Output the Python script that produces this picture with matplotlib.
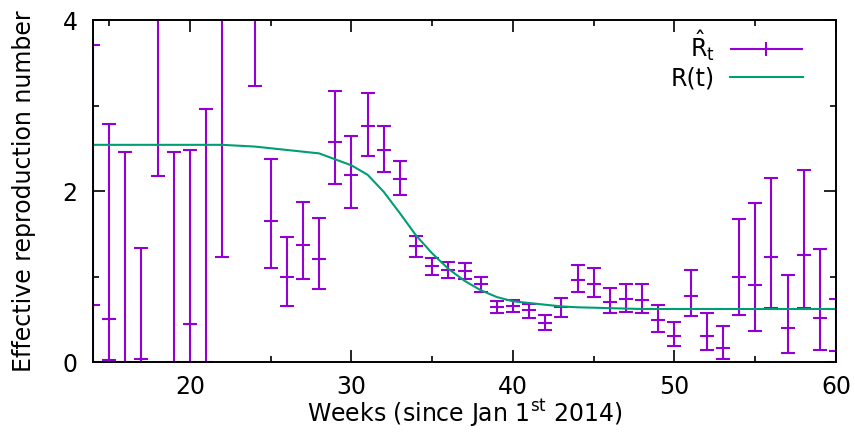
import matplotlib
matplotlib.use("Agg")
import matplotlib.pyplot as plt
from matplotlib.container import ErrorbarContainer
from matplotlib.legend_handler import HandlerErrorbar

# weekly estimates of R_t (centre, lower, upper)
weeks = [14, 15, 16, 17, 18, 19, 20, 21, 22, 24, 25, 26, 27, 28, 29,
         30, 31, 32, 33, 34, 35, 36, 37, 38, 39, 40, 41, 42, 43, 44,
         45, 46, 47, 48, 49, 50, 51, 52, 53, 54, 55, 56, 57, 58, 59, 60]
rt_mid = [0.67, 0.50, 0.00, 0.03, 4.50, 0.00, 0.44, 0.00, 4.30, 4.50, 1.65, 1.00, 1.37, 1.21, 2.57,
          2.19, 2.76, 2.48, 2.14, 1.36, 1.12, 1.08, 1.06, 0.91, 0.64, 0.65, 0.61, 0.46, 0.64, 0.96,
          0.91, 0.70, 0.74, 0.73, 0.49, 0.31, 0.77, 0.30, 0.16, 1.00, 0.90, 1.23, 0.40, 1.25, 0.51, 0.13]
rt_lo = [0.00, 0.02, -0.60, -0.50, 2.18, -0.60, 0.00, -0.60, 1.23, 3.23, 1.10, 0.65, 0.97, 0.85, 2.08,
         1.80, 2.41, 2.22, 1.95, 1.23, 1.02, 0.98, 0.97, 0.82, 0.57, 0.58, 0.52, 0.38, 0.53, 0.82,
         0.76, 0.57, 0.59, 0.57, 0.35, 0.19, 0.54, 0.14, 0.04, 0.55, 0.36, 0.63, 0.11, 0.63, 0.14, 0.00]
rt_hi = [3.71, 2.78, 2.46, 1.33, 7.00, 2.46, 2.48, 2.96, 7.00, 6.00, 2.37, 1.46, 1.87, 1.68, 3.17,
         2.64, 3.15, 2.76, 2.35, 1.47, 1.22, 1.17, 1.16, 0.99, 0.71, 0.72, 0.68, 0.55, 0.75, 1.13,
         1.10, 0.87, 0.91, 0.91, 0.67, 0.47, 1.08, 0.57, 0.42, 1.67, 1.86, 2.15, 1.02, 2.25, 1.32, 0.74]

# true reproduction number R(t)
t_weeks = [14, 16, 18, 20, 22, 24, 26, 28, 29, 30, 31, 32, 33, 34, 35, 36, 37, 38, 39, 40,
           41, 42, 43, 44, 46, 48, 50, 52, 54, 56, 58, 60]
r_true = [2.54, 2.54, 2.54, 2.54, 2.54, 2.52, 2.48, 2.44, 2.37, 2.30, 2.19, 1.99, 1.74, 1.48,
          1.27, 1.09, 0.95, 0.84, 0.76, 0.71, 0.69, 0.67, 0.65, 0.64, 0.63, 0.62, 0.62, 0.62,
          0.62, 0.62, 0.62, 0.62]

purple = '#9400d3'
green = '#009e73'

plt.rcParams['font.family'] = 'DejaVu Sans'
plt.rcParams['mathtext.fontset'] = 'dejavusans'
plt.rcParams['font.size'] = 17

fig = plt.figure(figsize=(8.55, 4.32), dpi=100)
ax = fig.add_axes([0.1088, 0.162, 0.869, 0.7917])

yerr = [[m - lo for m, lo in zip(rt_mid, rt_lo)], [hi - m for m, hi in zip(rt_mid, rt_hi)]]
ax.errorbar(weeks, rt_mid, yerr=yerr, fmt='_', color=purple, ecolor=purple,
            elinewidth=1.5, capsize=4.7, capthick=1.5, markersize=9.4,
            markeredgewidth=1.5, zorder=2)
line, = ax.plot(t_weeks, r_true, color=green, lw=1.5, zorder=3)

# proxy with horizontal bar, like the gnuplot key sample
proxy = ax.errorbar([], [], xerr=[], fmt='|', color=purple, ecolor=purple,
                    elinewidth=1.5, capsize=4.7, capthick=1.5, markersize=9.4,
                    markeredgewidth=1.5)
leg = ax.legend([proxy, line], [r'$\hat{\mathrm{R}}_\mathrm{t}$', 'R(t)'],
                loc='upper right', frameon=False, markerfirst=False,
                handlelength=3.1, handletextpad=0.63, labelspacing=0.15,
                borderaxespad=0, borderpad=0, fontsize=17,
                bbox_to_anchor=(0.9556, 0.975),
                handler_map={ErrorbarContainer: HandlerErrorbar(xerr_size=1.55)})

ax.set_xlim(14, 60)
ax.set_ylim(0, 4)
ax.set_xticks([20, 30, 40, 50, 60])
ax.set_xticks([15, 25, 35, 45, 55], minor=True)
ax.set_yticks([0, 2, 4])
ax.set_yticks([1, 3], minor=True)
ax.tick_params(which='both', direction='in', top=True, right=True, width=1.2)
ax.tick_params(which='major', length=8.5)
ax.tick_params(which='minor', length=4)
ax.tick_params(axis='x', which='major', pad=9)
ax.tick_params(axis='y', which='major', pad=11)
for s in ax.spines.values():
    s.set_linewidth(1.4)
    s.set_zorder(5)

ax.set_xlabel(r'Weeks (since Jan 1$^{\mathrm{st}}$ 2014)', labelpad=-0.5)
ax.set_ylabel('Effective reproduction number', labelpad=19)

fig.savefig('out.png', dpi=100)
